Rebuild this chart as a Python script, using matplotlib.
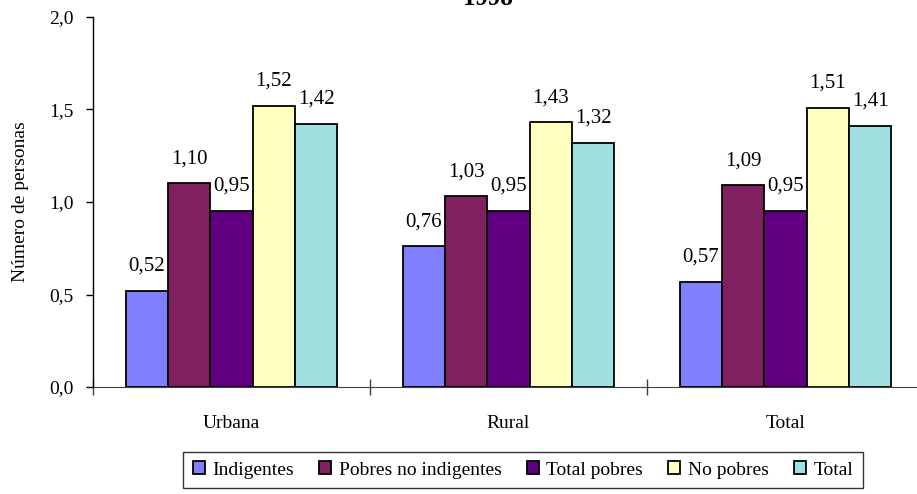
import matplotlib.pyplot as plt
import numpy as np

plt.rcParams['font.family'] = ['Liberation Serif', 'DejaVu Serif']

# datos
categorias = ['Urbana', 'Rural', 'Total']
series = ['Indigentes', 'Pobres no indigentes', 'Total pobres', 'No pobres', 'Total']
indigentes = [0.52, 0.76, 0.57]
pobres_no_ind = [1.10, 1.03, 1.09]
total_pobres = [0.95, 0.95, 0.95]
no_pobres = [1.52, 1.43, 1.51]
total = [1.42, 1.32, 1.41]
valores = [indigentes, pobres_no_ind, total_pobres, no_pobres, total]
colores = ['#8080FF', '#802060', '#600080', '#FFFFC0', '#A0E0E0']

fig = plt.figure(figsize=(9.17, 4.94), dpi=100)
ax = fig.add_axes([93 / 917, 107 / 494, 831 / 917, 370 / 494])

x = np.arange(len(categorias))
ancho = 0.153
for i, (nombre, vals) in enumerate(zip(series, valores)):
    pos = x + (i - 2) * ancho
    ax.bar(pos, vals, width=ancho, color=colores[i], edgecolor='black',
           linewidth=1.3, label=nombre, zorder=2)
    for px, v in zip(pos, vals):
        ax.annotate(f'{v:.2f}'.replace('.', ','), (px, v), xytext=(0, 11),
                    textcoords='offset points', ha='center', va='bottom',
                    fontsize=15)

ax.set_xlim(-0.5, 2.5)
ax.set_ylim(0, 2.0)
ax.set_yticks([0, 0.5, 1.0, 1.5, 2.0])
ax.set_yticklabels(['0,0', '0,5', '1,0', '1,5', '2,0'], fontsize=14)
ax.tick_params(axis='y', direction='out', length=5, width=1, pad=9)

# ticks mayores entre categorías, etiquetas en ticks menores
ax.set_xticks([-0.5, 0.5, 1.5, 2.5])
ax.set_xticklabels([])
ax.tick_params(axis='x', which='major', direction='inout', length=12, width=1,
               color='#404040')
ax.set_xticks(x, minor=True)
ax.set_xticklabels(categorias, minor=True, fontsize=14)
ax.tick_params(axis='x', which='minor', length=0, pad=20)

for s in ['top', 'right']:
    ax.spines[s].set_visible(False)
ax.spines['bottom'].set_color('#404040')
ax.spines['left'].set_linewidth(1)

ax.set_ylabel('Número de personas', fontsize=14)
ax.yaxis.set_label_coords(-0.077, 0.5)

fig.text(488 / 917, 1 - 5 / 494, '1998', ha='center', va='baseline',
         fontsize=18, fontweight='bold')

leg = fig.legend(loc='center', bbox_to_anchor=(523 / 917, 1 - 470 / 494), ncol=5,
                 fontsize=14, frameon=True, fancybox=False, handlelength=0.6,
                 handleheight=0.6, handletextpad=0.4, columnspacing=1.3,
                 borderpad=0.5, edgecolor='black')
leg.get_frame().set_linewidth(1)

fig.savefig('out.png', dpi=100)
